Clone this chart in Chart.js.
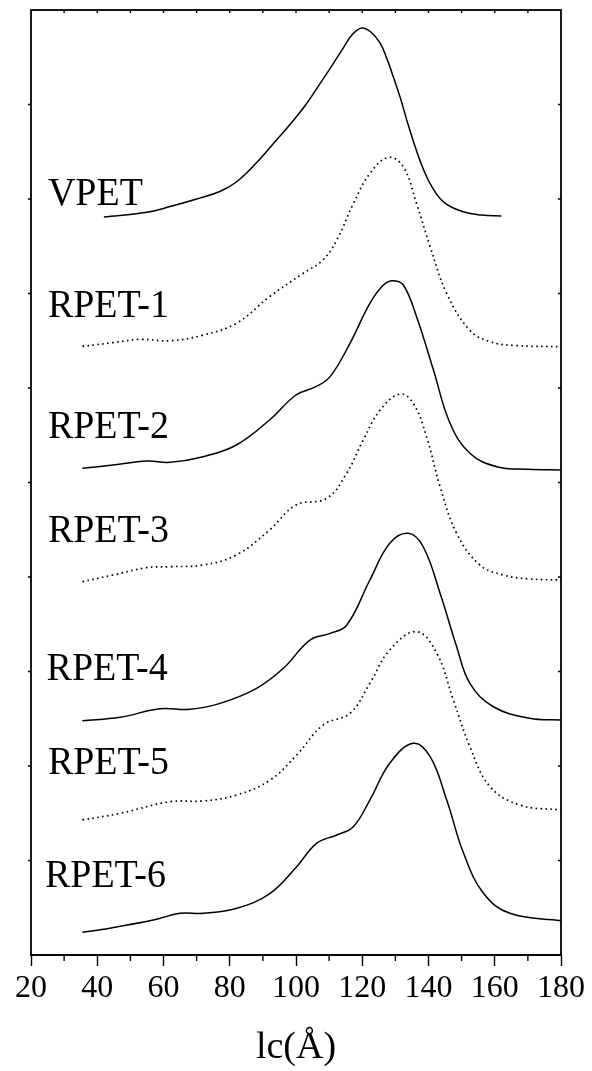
<!DOCTYPE html>
<html>
<head>
<meta charset="utf-8">
<script src="https://cdn.jsdelivr.net/npm/chart.js@4.4.0/dist/chart.umd.min.js"></script>
<style>
  html, body { margin: 0; padding: 0; background: #fff; }
  canvas { display: block; }
</style>
</head>
<body>
<canvas id="lc" width="592" height="1071"></canvas>
<script>
// lc distributions, each curve stacked at its own vertical offset
const names = ['VPET', 'RPET-1', 'RPET-2', 'RPET-3', 'RPET-4', 'RPET-5', 'RPET-6'];
const dotted = [false, true, false, true, false, true, false];
const xTicks = [20, 40, 60, 80, 100, 120, 140, 160, 180];

const vpetX = [42, 55, 62, 70, 77, 82, 88, 93, 98, 103, 108, 111, 114.3, 117, 119.8, 122.5, 125.4, 127.5, 129.4, 131.5, 133.4, 136, 138.4, 141, 144.5, 150, 156, 162];
const vpetY = [7.81, 7.86, 7.92, 8.0, 8.08, 8.18, 8.38, 8.58, 8.78, 9.0, 9.26, 9.42, 9.6, 9.74, 9.81, 9.77, 9.65, 9.48, 9.29, 9.07, 8.84, 8.55, 8.32, 8.13, 7.97, 7.87, 7.83, 7.82];

const r1X = [35.5, 44.8, 52.9, 62, 72, 82, 92, 102, 108, 112.3, 117.3, 122.3, 127.9, 132.4, 136.4, 140.5, 145.5, 152.5, 158.6, 166, 180];
const r1Y = [6.44, 6.48, 6.515, 6.5, 6.56, 6.685, 6.966, 7.21, 7.35, 7.566, 7.95, 8.27, 8.44, 8.34, 7.95, 7.495, 7.0, 6.61, 6.49, 6.45, 6.437];

const r2X = [35.5, 44.8, 54.9, 62, 72, 82, 92, 100, 106, 110.3, 116.3, 122.3, 126.4, 129.2, 132.4, 136.4, 141.5, 146.5, 152.5, 160.6, 170, 180];
const r2Y = [5.15, 5.185, 5.227, 5.214, 5.273, 5.397, 5.661, 5.926, 6.014, 6.12, 6.473, 6.896, 7.09, 7.136, 7.09, 6.754, 6.19, 5.627, 5.31, 5.167, 5.14, 5.132];

const r3X = [35.5, 44.8, 54.9, 62, 72, 82, 92, 100, 109.3, 115.3, 120.3, 125.4, 131.4, 135.4, 139.4, 143.5, 148.5, 155.5, 162.6, 170, 180];
const r3Y = [3.95, 4.021, 4.099, 4.109, 4.127, 4.233, 4.497, 4.762, 4.833, 5.098, 5.45, 5.767, 5.936, 5.838, 5.485, 4.956, 4.462, 4.127, 4.021, 3.98, 3.968];

const r4X = [35.5, 46.9, 58.9, 68, 77.1, 88.1, 96.2, 104.2, 110.3, 115.3, 122.3, 128.3, 133.9, 138.4, 143.5, 148.5, 152.5, 159.6, 170.6, 180];
const r4Y = [2.479, 2.515, 2.606, 2.6, 2.663, 2.822, 3.034, 3.333, 3.404, 3.49, 3.968, 4.357, 4.462, 4.32, 3.827, 3.262, 2.875, 2.627, 2.505, 2.487];

const r5X = [35.5, 46.9, 62, 72, 82.1, 92.2, 100.2, 108.2, 116.3, 122.3, 128.3, 136.4, 142.5, 147.5, 152.5, 158.6, 167.6, 180];
const r5Y = [1.429, 1.499, 1.622, 1.63, 1.693, 1.852, 2.116, 2.434, 2.558, 2.875, 3.228, 3.421, 3.193, 2.698, 2.204, 1.781, 1.587, 1.534];

const r6X = [35.5, 41.8, 56.9, 65, 72, 82.1, 92.2, 100.2, 106.2, 112.3, 117.3, 122.3, 128.3, 135.4, 140.5, 145.5, 150.6, 156.6, 164.6, 180];
const r6Y = [0.24, 0.272, 0.37, 0.441, 0.441, 0.494, 0.653, 0.934, 1.182, 1.27, 1.358, 1.64, 2.029, 2.24, 2.098, 1.64, 1.076, 0.653, 0.441, 0.363];

// where each sample name sits (left edge x, baseline y) in data units
const labelX = [25.1, 25.1, 25.1, 25.1, 24.7, 25.1, 24.2];
const labelY = [7.94, 6.75, 5.47, 4.37, 2.91, 1.915, 0.716];

const seriesX = [vpetX, r1X, r2X, r3X, r4X, r5X, r6X];
const seriesY = [vpetY, r1Y, r2Y, r3Y, r4Y, r5Y, r6Y];

const SERIF = '"Liberation Serif", "Times New Roman", serif';

const datasets = names.map((name, i) => ({
  label: name,
  data: seriesX[i].map((x, j) => ({ x: x, y: seriesY[i][j] })),
  borderColor: '#000',
  borderWidth: dotted[i] ? 1.7 : 1.5,
  borderDash: dotted[i] ? [1.6, 3.4] : [],
  tension: 0.4,
  pointRadius: 0,
  fill: false
}));

// box frame, minor/inner ticks and sample names
const frame = {
  id: 'frame',
  afterDraw(chart) {
    const { ctx, chartArea: a, scales } = chart;
    const sx = scales.x, sy = scales.y;
    ctx.save();
    ctx.strokeStyle = '#000';
    ctx.lineWidth = 1.8;
    ctx.strokeRect(a.left, a.top, a.right - a.left, a.bottom - a.top);

    ctx.lineWidth = 1.4;
    ctx.beginPath();
    for (let v = 30; v < 180; v += 20) {
      const px = sx.getPixelForValue(v);
      ctx.moveTo(px, a.bottom);
      ctx.lineTo(px, a.bottom + 6);
    }
    for (let v = 30; v < 180; v += 10) {
      const px = sx.getPixelForValue(v);
      ctx.moveTo(px, a.top);
      ctx.lineTo(px, a.top + 3);
    }
    for (let v = 1; v < 10; v++) {
      const py = sy.getPixelForValue(v);
      ctx.moveTo(a.left - 3, py);
      ctx.lineTo(a.left, py);
      ctx.moveTo(a.right, py);
      ctx.lineTo(a.right - 3, py);
    }
    ctx.stroke();

    // names are drawn slightly tall, like the printed figure
    ctx.fillStyle = '#000';
    ctx.font = '38px ' + SERIF;
    ctx.textAlign = 'left';
    ctx.textBaseline = 'alphabetic';
    names.forEach((n, i) => {
      const px = sx.getPixelForValue(labelX[i]);
      const py = sy.getPixelForValue(labelY[i]);
      ctx.save();
      ctx.translate(px, py);
      ctx.scale(1, 1.08);
      ctx.fillText(n, 0, 0);
      ctx.restore();
    });
    ctx.restore();
  }
};

new Chart(document.getElementById('lc'), {
  type: 'line',
  data: { datasets: datasets },
  options: {
    responsive: false,
    animation: false,
    devicePixelRatio: 1,
    layout: { padding: { left: 31, right: 31, top: 10, bottom: 0 } },
    plugins: { legend: { display: false }, tooltip: { enabled: false } },
    scales: {
      x: {
        type: 'linear',
        min: 20,
        max: 180,
        afterBuildTicks(scale) {
          scale.ticks = xTicks.map(v => ({ value: v }));
        },
        afterFit(scale) { scale.height = 116; },
        grid: {
          drawOnChartArea: false,
          drawTicks: true,
          tickLength: 11,
          tickColor: '#000',
          tickWidth: 1.4
        },
        border: { display: true, color: '#000', width: 1.8 },
        ticks: {
          color: '#000',
          padding: 3,
          maxRotation: 0,
          font: { family: SERIF, size: 32 }
        },
        title: {
          display: true,
          text: 'lc(Å)',
          color: '#000',
          padding: { top: 8, bottom: 0 },
          font: { family: SERIF, size: 38 }
        }
      },
      y: {
        type: 'linear',
        display: false,
        min: 0,
        max: 10
      }
    }
  },
  plugins: [frame]
});
</script>
</body>
</html>
